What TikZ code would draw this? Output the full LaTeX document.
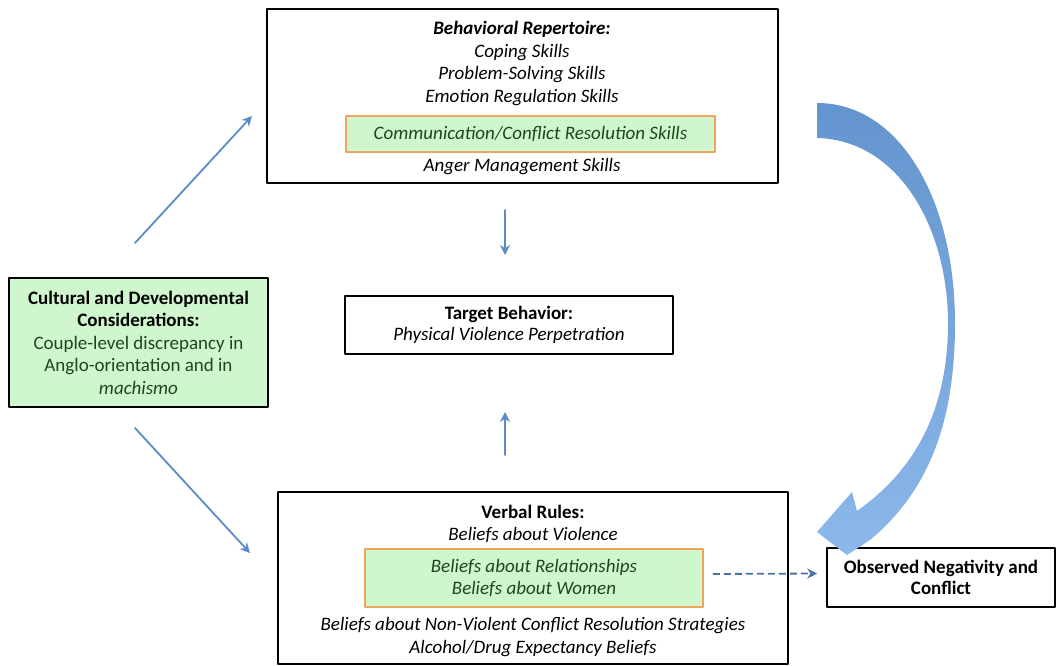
\documentclass[tikz,border=0pt]{standalone}
\usepackage{fontspec}
\setmainfont{Carlito}
\usetikzlibrary{arrows.meta}
\definecolor{Gfill}{RGB}{208,246,206}
\definecolor{Oline}{RGB}{238,166,92}
\definecolor{Gtext}{RGB}{30,70,30}
\definecolor{Aline}{RGB}{92,140,198}
\definecolor{Adash}{RGB}{74,114,170}
\definecolor{Atop}{RGB}{100,148,206}
\definecolor{Amid}{RGB}{70,124,192}
\definecolor{Abot}{RGB}{140,184,234}

\begin{document}
\begin{tikzpicture}[x=1pt,y=-1pt,line cap=round,line join=round,
  font=\fontsize{19}{22.5}\selectfont,
  box/.style={draw,line width=1.6pt,fill=white,inner sep=0pt,align=center},
  hlbox/.style={draw=Oline,line width=1.6pt,fill=Gfill,inner sep=0pt,align=center,text=Gtext},
  flow/.style={draw=Aline,line width=1.8pt,-{Stealth[length=10pt,width=10pt]}}]
\path[use as bounding box] (0,0) rectangle (1057,666);
% boxes
\node[box,minimum width=511pt,minimum height=174pt] (rep) at (522.5,96) {};
\node[align=center] (reptxt) at (522,63.5) {\textbf{\textit{Behavioral Repertoire:}}\\\textit{Coping Skills}\\\textit{Problem-Solving Skills}\\\textit{Emotion Regulation Skills}};
\node[hlbox,minimum width=369pt,minimum height=36pt] (comm) at (530.5,134) {\textit{Communication/Conflict Resolution Skills}};
\node (anger) at (522,167) {\textit{Anger Management Skills}};
\node[box,minimum width=328pt,minimum height=58pt,font=\fontsize{19}{20.5}\selectfont] (tgt) at (509,325) {\textbf{Target Behavior:}\\\textit{Physical Violence Perpetration}};
\node[box,fill=Gfill,minimum width=259pt,minimum height=129pt] (cult) at (138.5,342.5) {\textbf{Cultural and Developmental}\\\textbf{Considerations:}\\\textcolor{Gtext}{Couple-level discrepancy in}\\\textcolor{Gtext}{Anglo-orientation and in}\\\textcolor{Gtext}{\textit{machismo}}};
\node[box,minimum width=510pt,minimum height=172pt] (verb) at (533,578) {};
\node[align=center] (verbtxt) at (533,524) {\textbf{Verbal Rules:}\\\textit{Beliefs about Violence}};
\node[hlbox,minimum width=338pt,minimum height=58pt] (rel) at (534,578) {\textit{Beliefs about Relationships}\\\textit{Beliefs about Women}};
\node[align=center] (verbbot) at (533,637) {\textit{Beliefs about Non-Violent Conflict Resolution Strategies}\\\textit{Alcohol/Drug Expectancy Beliefs}};
\node[box,minimum width=228pt,minimum height=59pt,font=\fontsize{19}{21}\selectfont] (obs) at (941,577.5) {\textbf{Observed Negativity and}\\\textbf{Conflict}};
% arrow ends
\coordinate (c1) at (135,243);
\coordinate (r1) at (252,116);
\coordinate (c2) at (135,428);
\coordinate (v1) at (250,553);
\coordinate (r2) at (505,210);
\coordinate (t1) at (505,255);
\coordinate (v2) at (505,455);
\coordinate (t2) at (505,412);
\draw[flow] (c1) -- (r1);
\draw[flow] (c2) -- (v1);
\draw[flow] (r2) -- (t1);
\draw[flow] (v2) -- (t2);
\draw[flow,draw=Adash,dash pattern=on 7pt off 4pt,line cap=butt] (rel.east) ++(9,-4) -- ([xshift=-9pt,yshift=4pt]obs.west);
% big curved arrow
\shade[top color=Atop,middle color=Amid,bottom color=Abot]
  (817,103) .. controls (900,103) and (955,200) .. (955,323)
  .. controls (955,420) and (930,490) .. (870,540)
  -- (847,555) -- (817,532) -- (852,492) -- (857,511)
  .. controls (915,470) and (948,410) .. (948,323)
  .. controls (948,230) and (900,140) .. (817,138) -- cycle;
\end{tikzpicture}
\end{document}
